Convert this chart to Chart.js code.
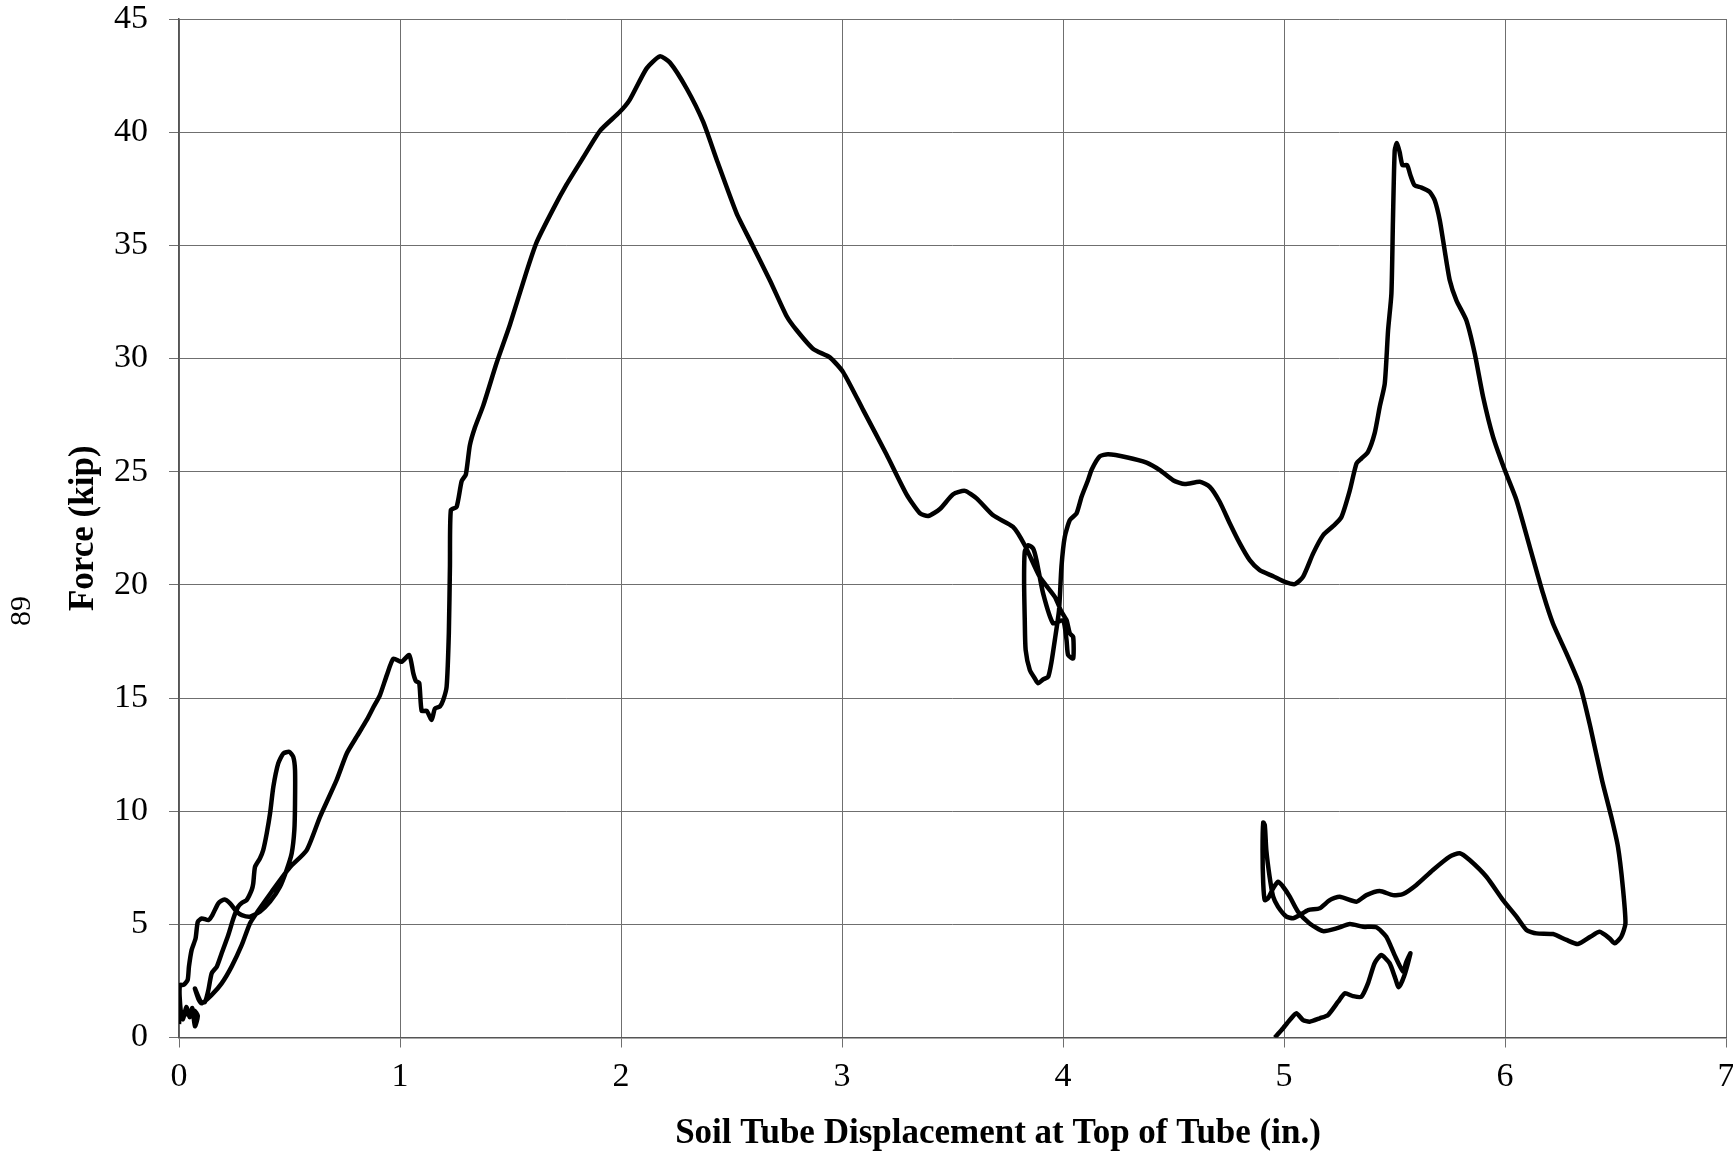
<!DOCTYPE html>
<html>
<head>
<meta charset="utf-8">
<script src="https://cdn.jsdelivr.net/npm/chart.js@4.4.1/dist/chart.umd.min.js"></script>
<style>
  html, body { margin: 0; padding: 0; background: #fff; }
  #wrap { width: 1733px; height: 1159px; }
</style>
</head>
<body>
<div id="wrap"><canvas id="forceChart" width="1733" height="1159"></canvas></div>
<script>
// soil tube displacement (in.) in drawing order
const displacement = [
  0.000, 0.006, 0.018, 0.033, 0.048, 0.060, 0.072, 0.085, 0.068, 0.040, 0.012, 0.003, 0.005, 0.020,
  0.039, 0.045, 0.057, 0.075, 0.085, 0.103, 0.133, 0.151, 0.178, 0.205, 0.231, 0.261, 0.284, 0.321,
  0.366, 0.412, 0.457, 0.487, 0.510, 0.522, 0.525, 0.525, 0.517, 0.499, 0.472, 0.449, 0.427, 0.412,
  0.397, 0.381, 0.366, 0.344, 0.336, 0.329, 0.306, 0.285, 0.268, 0.246, 0.223, 0.193, 0.171, 0.148,
  0.133, 0.118, 0.100, 0.072, 0.088, 0.103,
  0.148, 0.193, 0.238, 0.284, 0.321, 0.355, 0.420, 0.500, 0.578, 0.638, 0.713, 0.759, 0.804, 0.849,
  0.880, 0.909, 0.940, 0.970, 1.007, 1.042, 1.060, 1.072, 1.087, 1.098, 1.121, 1.143, 1.158, 1.181,
  1.196, 1.211, 1.221, 1.226, 1.230, 1.256, 1.279, 1.298, 1.316, 1.339, 1.377, 1.437, 1.497, 1.573,
  1.618, 1.693, 1.754, 1.829, 1.905, 1.995, 2.040, 2.116, 2.176, 2.221, 2.297, 2.372, 2.433, 2.523,
  2.583, 2.674, 2.749, 2.794, 2.870, 2.945, 3.005, 3.096, 3.201, 3.292, 3.352, 3.390, 3.443, 3.503,
  3.556, 3.609, 3.684, 3.774, 3.827, 3.895, 3.963, 3.993, 4.016, 4.031, 4.046, 4.046, 4.023, 4.016,
  4.000, 3.955, 3.910, 3.880, 3.865, 3.843, 3.827, 3.824, 3.827, 3.831, 3.850, 3.872, 3.887, 3.910,
  3.933, 3.948, 3.963, 3.982, 3.993, 4.008, 4.031, 4.061, 4.084, 4.113, 4.130, 4.166, 4.204, 4.287,
  4.378, 4.438, 4.498, 4.551, 4.619, 4.664, 4.709, 4.755, 4.800, 4.845, 4.890, 4.951, 5.004, 5.049,
  5.086, 5.132, 5.177, 5.222, 5.260, 5.298, 5.328, 5.350, 5.380, 5.410, 5.433, 5.456, 5.471, 5.486,
  5.493, 5.501, 5.511, 5.523, 5.536, 5.557, 5.572, 5.591, 5.622, 5.659, 5.682, 5.705, 5.727, 5.750,
  5.780, 5.825, 5.863, 5.901, 5.946, 5.999, 6.052, 6.112, 6.172, 6.217, 6.278, 6.341, 6.386, 6.439,
  6.481, 6.511, 6.533, 6.545, 6.526, 6.496, 6.473, 6.428, 6.386, 6.330, 6.278, 6.217, 6.142, 6.097,
  6.052, 5.991, 5.916, 5.840, 5.795, 5.750, 5.674, 5.599, 5.539, 5.493, 5.433, 5.373, 5.328, 5.252,
  5.207, 5.162, 5.109, 5.071, 5.041, 5.011, 4.973, 4.951, 4.935, 4.920, 4.913, 4.906, 4.903, 4.906,
  4.913, 4.928, 4.951, 4.973, 4.996, 5.026, 5.063, 5.116, 5.177, 5.237, 5.298, 5.358, 5.418, 5.463,
  5.500, 5.539, 5.552, 5.572, 5.545, 5.519, 5.501, 5.478, 5.440, 5.410, 5.380, 5.350, 5.312, 5.275,
  5.245, 5.199, 5.162, 5.116, 5.086, 5.056, 5.026, 4.989, 4.958
];

// force (kip), same order
const force = [
  0.60, 1.20, 0.80, 1.35, 0.90, 1.30, 0.50, 0.95, 1.20, 1.05, 1.00, 1.80, 2.32, 2.32,
  2.54, 3.13, 3.86, 4.38, 5.11, 5.26, 5.19, 5.41, 5.93, 6.10, 5.93, 5.56, 5.41, 5.34,
  5.56, 6.00, 6.66, 7.40, 8.14, 9.17, 10.34, 11.82, 12.40, 12.62, 12.55, 12.11, 11.08, 9.90,
  9.02, 8.28, 7.91, 7.54, 6.81, 6.52, 6.07, 5.95, 5.78, 5.26, 4.53, 3.72, 3.13, 2.84,
  2.10, 1.58, 1.55, 2.17, 1.70, 1.51,
  1.88, 2.39, 3.13, 4.09, 5.04, 5.55, 6.45, 7.50, 8.28, 9.75, 11.37, 12.55, 13.29, 14.02,
  14.60, 15.12, 16.00, 16.74, 16.60, 16.90, 16.10, 15.75, 15.67, 14.43, 14.43, 14.03, 14.53, 14.63,
  14.92, 15.50, 17.88, 20.84, 23.30, 23.44, 24.58, 24.88, 26.16, 26.95, 27.93, 29.80, 31.48, 33.85,
  35.13, 36.60, 37.69, 38.88, 40.06, 40.90, 41.44, 42.82, 43.35, 43.08, 41.93, 40.45, 38.78, 36.41,
  35.23, 33.45, 31.88, 31.26, 30.42, 30.05, 29.40, 27.72, 25.77, 24.00, 23.17, 23.04, 23.35, 24.00,
  24.15, 23.82, 23.07, 22.56, 21.75, 20.35, 19.47, 18.81, 18.44, 17.85, 17.70, 16.75, 16.90, 17.56,
  18.44, 18.30, 19.62, 21.09, 21.60, 21.75, 21.46, 20.20, 18.44, 17.12, 16.23, 15.87, 15.65, 15.82,
  15.94, 16.60, 17.56, 18.88, 20.80, 22.12, 22.86, 23.15, 23.89, 24.62, 25.10, 25.68, 25.77, 25.64,
  25.40, 25.07, 24.62, 24.45, 24.55, 24.33, 23.67, 22.71, 21.83, 21.09, 20.65, 20.38, 20.13, 20.03,
  20.35, 21.39, 22.19, 22.59, 23.00, 24.18, 25.36, 25.58, 25.87, 26.69, 27.86, 28.90, 31.25, 32.87,
  36.10, 39.20, 39.52, 39.13, 38.54, 38.54, 38.10, 37.65, 37.55, 37.36, 36.99, 36.10, 34.78, 33.46,
  32.57, 31.69, 30.22, 28.30, 26.54, 25.07, 23.74, 21.68, 19.62, 18.29, 16.97, 15.50, 13.73, 11.37,
  9.75, 8.43, 6.66, 5.04, 4.45, 4.16, 4.38, 4.67, 4.45, 4.13, 4.31, 4.57, 4.60, 4.75,
  5.34, 6.07, 7.10, 7.84, 8.14, 7.99, 7.40, 6.74, 6.34, 6.29, 6.47, 6.29, 6.00, 6.22,
  6.07, 5.71, 5.63, 5.41, 5.27, 5.34, 5.78, 6.22, 7.10, 8.28, 9.39, 9.50, 8.28, 6.81,
  6.07, 6.15, 6.59, 6.88, 6.66, 6.22, 5.56, 5.04, 4.70, 4.82, 5.01, 4.89, 4.87, 4.45,
  3.65, 2.91, 3.30, 3.72, 2.75, 2.22, 2.69, 3.28, 3.64, 3.28, 2.39, 1.80, 1.83, 1.95,
  1.58, 0.99, 0.85, 0.70, 0.77, 1.07, 0.77, 0.33, 0.00
];

const xTicks = [0, 1, 2, 3, 4, 5, 6, 7];
const yTicks = [0, 5, 10, 15, 20, 25, 30, 35, 40, 45];
const xTitle = 'Soil Tube Displacement at Top of Tube (in.)';
const yTitle = 'Force (kip)';
const pageNumber = '89';

const points = displacement.map((x, i) => ({ x: x, y: force[i] }));

const serif = '"Liberation Serif", "Times New Roman", serif';

// x title sits right of the plot centre in the original, and the page
// number is printed sideways at the far left, so both are drawn here
const extraText = {
  id: 'extraText',
  afterDraw(chart) {
    const ctx = chart.ctx;
    ctx.save();
    ctx.fillStyle = '#000';
    ctx.textAlign = 'center';
    ctx.textBaseline = 'middle';

    ctx.font = 'bold 35px ' + serif;
    ctx.fillText(xTitle, 998, 1134);

    ctx.translate(22, 611);
    ctx.rotate(-Math.PI / 2);
    ctx.font = '30px ' + serif;
    ctx.fillText(pageNumber, 0, 0);
    ctx.restore();
  }
};

const ctx = document.getElementById('forceChart');
new Chart(ctx, {
  type: 'scatter',
  data: {
    datasets: [{
      label: 'Force',
      data: points,
      showLine: true,
      borderColor: '#000',
      borderWidth: 4.5,
      pointRadius: 0,
      tension: 0.2,
      fill: false
    }]
  },
  options: {
    responsive: false,
    devicePixelRatio: 1,
    animation: false,
    layout: { padding: { top: 19, right: 7, left: 0, bottom: 0 } },
    plugins: {
      legend: { display: false },
      tooltip: { enabled: false }
    },
    scales: {
      x: {
        type: 'linear',
        min: 0,
        max: 7,
        afterBuildTicks: scale => { scale.ticks = xTicks.map(v => ({ value: v })); },
        afterFit: scale => { scale.height = 121.5; scale.paddingLeft = 0; scale.paddingRight = 0; },
        ticks: { color: '#000', font: { family: serif, size: 34 }, padding: 9 },
        grid: { color: '#6f6f6f', lineWidth: 1, tickLength: 10 },
        border: { color: '#555', width: 1.5 },
        title: { display: false }
      },
      y: {
        type: 'linear',
        min: 0,
        max: 45,
        afterBuildTicks: scale => { scale.ticks = yTicks.map(v => ({ value: v })); },
        afterFit: scale => { scale.width = 179; scale.paddingTop = 0; scale.paddingBottom = 0; },
        ticks: { color: '#000', font: { family: serif, size: 34 }, padding: 21 },
        grid: { color: '#6f6f6f', lineWidth: 1, tickLength: 10 },
        border: { color: '#555', width: 1.5 },
        title: {
          display: true,
          text: yTitle,
          color: '#000',
          font: { family: serif, size: 35, weight: 'bold' },
          padding: { top: 63, bottom: 0 }
        }
      }
    }
  },
  plugins: [extraText]
});
</script>
</body>
</html>
